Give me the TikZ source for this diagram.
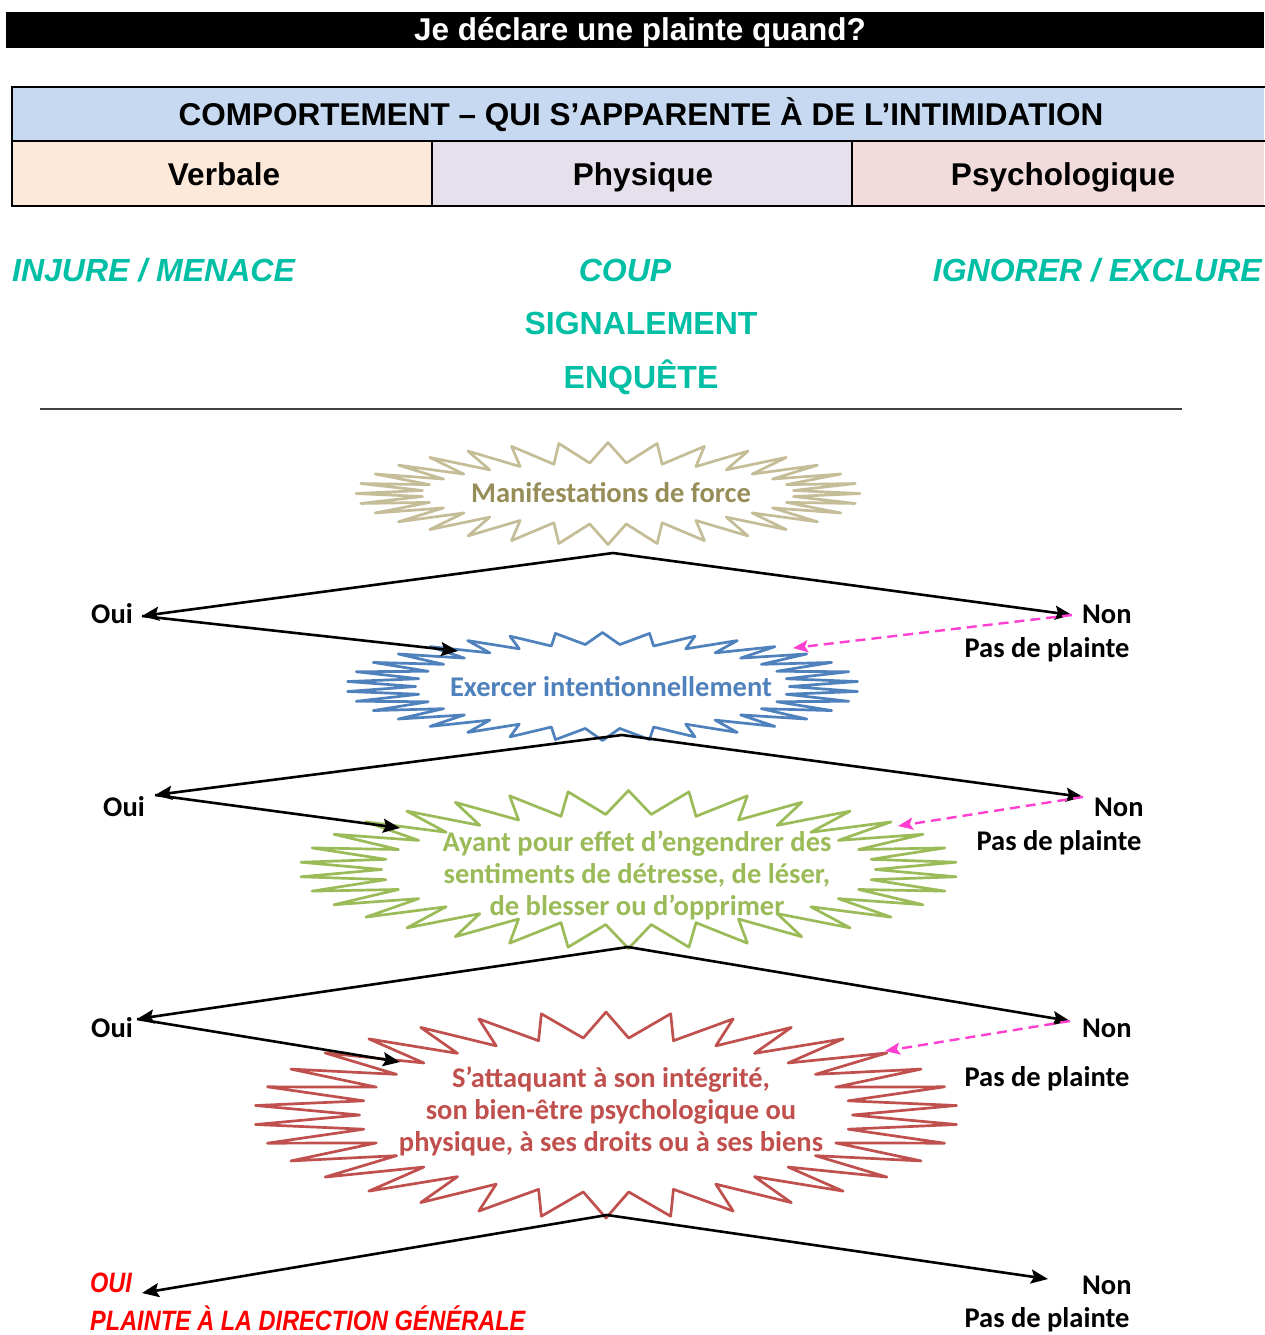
\documentclass[tikz,border=0pt]{standalone}
\usepackage{fontspec}
\usepackage{graphicx}
\setmainfont{Liberation Sans}
\newfontfamily\calfont{Carlito}
\usetikzlibrary{arrows.meta}
\definecolor{tealc}{HTML}{00BFA5}
\definecolor{hdrblue}{HTML}{C6D9F1}
\definecolor{peach}{HTML}{FDE9D9}
\definecolor{lavender}{HTML}{E5E0EC}
\definecolor{rosec}{HTML}{F2DCDB}
\definecolor{tanline}{HTML}{C4BD97}
\definecolor{tantext}{HTML}{978D58}
\definecolor{blueb}{HTML}{4F81BD}
\definecolor{greenb}{HTML}{9BBB59}
\definecolor{redb}{HTML}{C0504D}
\definecolor{pinkc}{HTML}{FF3FCF}
\definecolor{rulegray}{HTML}{404040}
\tikzset{
  titletxt/.style={font=\fontsize{31.5}{38}\selectfont\bfseries, text=white, inner sep=0},
  hdr/.style={font=\fontsize{31.5}{38}\selectfont\bfseries, inner sep=0},
  tealtxt/.style={font=\fontsize{32}{38}\selectfont\bfseries, text=tealc, inner sep=0},
  burstxt/.style={font=\calfont\bfseries\fontsize{28.5}{32}\selectfont, align=center, inner sep=0},
  lbl/.style={font=\calfont\bfseries\fontsize{28.5}{32}\selectfont, inner sep=0},
  redtxt/.style={font=\fontsize{28}{32}\selectfont\bfseries\itshape, text=red, inner sep=0},
  conn/.style={line width=2.6pt, -{Stealth[length=17pt,width=14pt,inset=3pt]}},
  pinkconn/.style={line width=2.4pt, draw=pinkc, dash pattern=on 10pt off 6pt, -{Stealth[length=15pt,width=12pt,inset=3pt]}},
}
\newcommand{\burstshape}[8]{%
  \pgfmathtruncatemacro\bM{2*#5-1}%
  \draw[draw=#8, fill=white, line width=2.7pt, line join=round]
    (#1,{#2-#4}) \foreach \i [evaluate=\i as \ra using {ifthenelse(mod(\i,2)==0,1,#6)}, evaluate=\i as \rb using {ifthenelse(mod(\i,2)==0,1,#7)}] in {1,...,\bM} { -- ({#1+#3*\ra*cos(90+\i*180/#5)},{#2-#4*\rb*sin(90+\i*180/#5)}) } -- cycle;
}
\begin{document}
\begin{tikzpicture}[x=1pt,y=-1pt]
\useasboundingbox[fill=white] (0,0) rectangle (1264,1335);
% title bar
\fill[black] (6,12) rectangle (1264,48);
\node[titletxt, anchor=base] (title) at (640,41) {Je déclare une plainte quand?};
% table
\fill[hdrblue] (12,87) rectangle (1264,141);
\fill[peach] (12,141) rectangle (432,206);
\fill[lavender] (432,141) rectangle (852,206);
\fill[rosec] (852,141) rectangle (1264,206);
\draw[line width=2.5pt] (1266,87) -- (12,87) -- (12,206) -- (1266,206);
\draw[line width=2pt] (12,141) -- (1266,141);
\draw[line width=1.5pt] (432,141) -- (432,206) (852,141) -- (852,206);
\node[hdr, anchor=base] (h0) at (641,126) {COMPORTEMENT – QUI S’APPARENTE À DE L’INTIMIDATION};
\node[hdr, anchor=base] (h1) at (224,185) {Verbale};
\node[hdr, anchor=base] (h2) at (643,185) {Physique};
\node[hdr, anchor=base] (h3) at (1063,185) {Psychologique};
% teal words
\node[tealtxt, anchor=base west, font=\fontsize{32}{38}\selectfont\bfseries\itshape] (t1) at (12,281.5) {INJURE / MENACE};
\node[tealtxt, anchor=base, font=\fontsize{32}{38}\selectfont\bfseries\itshape] (t2) at (625,281.5) {COUP};
\node[tealtxt, anchor=base east, font=\fontsize{32}{38}\selectfont\bfseries\itshape] (t3) at (1262,281.5) {IGNORER / EXCLURE};
\node[tealtxt, anchor=base] (t4) at (641,334.5) {SIGNALEMENT};
\node[tealtxt, anchor=base] (t5) at (641,388) {ENQUÊTE};
\draw[rulegray, line width=2pt] (40,409) -- (1182,409);
% starbursts
\burstshape{608}{493.5}{252}{51}{32}{0.74}{0.6}{tanline}
\node[burstxt, text=tantext] (b1) at (611,493) {Manifestations de force};
\burstshape{602.5}{686.5}{256}{54}{34}{0.73}{0.78}{blueb}
\node[burstxt, text=blueb] (b2) at (611,687) {Exercer intentionnellement};
\burstshape{628.5}{869.5}{329}{79}{34}{0.75}{0.7}{greenb}
\node[burstxt, text=greenb] (b3) at (637,875) {Ayant pour effet d’engendrer des\\sentiments de détresse, de léser,\\de blesser ou d’opprimer};
\burstshape{606}{1115}{352}{103}{34}{0.7}{0.75}{redb}
\node[burstxt, text=redb] (b4) at (611,1111) {S’attaquant à son intégrité,\\son bien-être psychologique ou\\physique, à ses droits ou à ses biens};
% level 1
\coordinate (a1) at (613,553);
\coordinate (oui1) at (142,616);
\coordinate (non1) at (1072,615);
\coordinate (in1) at (458,651);
\coordinate (p1) at (793,648);
\draw[conn] (a1) -- (oui1);
\draw[conn] (a1) -- (non1);
\draw[conn] (oui1) -- (in1);
\draw[pinkconn] (non1) -- (p1);
\node[lbl, anchor=east] (lo1) at (133,614) {Oui};
\node[lbl, anchor=west] (ln1) at (1082,614) {Non};
\node[lbl] (lp1) at (1047,650) {Pas de plainte};
% level 2
\coordinate (a2) at (622,735);
\coordinate (oui2) at (155,795);
\coordinate (non2) at (1083,797);
\coordinate (in2) at (400,828);
\coordinate (p2) at (898,826);
\draw[conn] (a2) -- (oui2);
\draw[conn] (a2) -- (non2);
\draw[conn] (oui2) -- (in2);
\draw[pinkconn] (non2) -- (p2);
\node[lbl, anchor=east] (lo2) at (145,807) {Oui};
\node[lbl, anchor=west] (ln2) at (1094,807) {Non};
\node[lbl] (lp2) at (1059,843) {Pas de plainte};
% level 3
\coordinate (a3) at (628,947);
\coordinate (oui3) at (137,1019);
\coordinate (non3) at (1070,1021);
\coordinate (in3) at (400,1062);
\coordinate (p3) at (885,1051);
\draw[conn] (a3) -- (oui3);
\draw[conn] (a3) -- (non3);
\draw[conn] (oui3) -- (in3);
\draw[pinkconn] (non3) -- (p3);
\node[lbl, anchor=east] (lo3) at (133,1028) {Oui};
\node[lbl, anchor=west] (ln3) at (1082,1028) {Non};
\node[lbl] (lp3) at (1047,1079) {Pas de plainte};
% level 4
\coordinate (a4) at (607,1215);
\coordinate (oui4) at (142,1293);
\coordinate (non4) at (1048,1279);
\draw[conn] (a4) -- (oui4);
\draw[conn] (a4) -- (non4);
\node[redtxt, anchor=west] (lo4) at (90,1283) {\scalebox{0.84}[1]{OUI}};
\node[redtxt, anchor=west] (lg4) at (90,1318) {\scalebox{0.84}[1]{PLAINTE À LA DIRECTION GÉNÉRALE}};
\node[lbl, anchor=west] (ln4) at (1082,1285) {Non};
\node[lbl] (lp4) at (1047,1320) {Pas de plainte};
\end{tikzpicture}
\end{document}
